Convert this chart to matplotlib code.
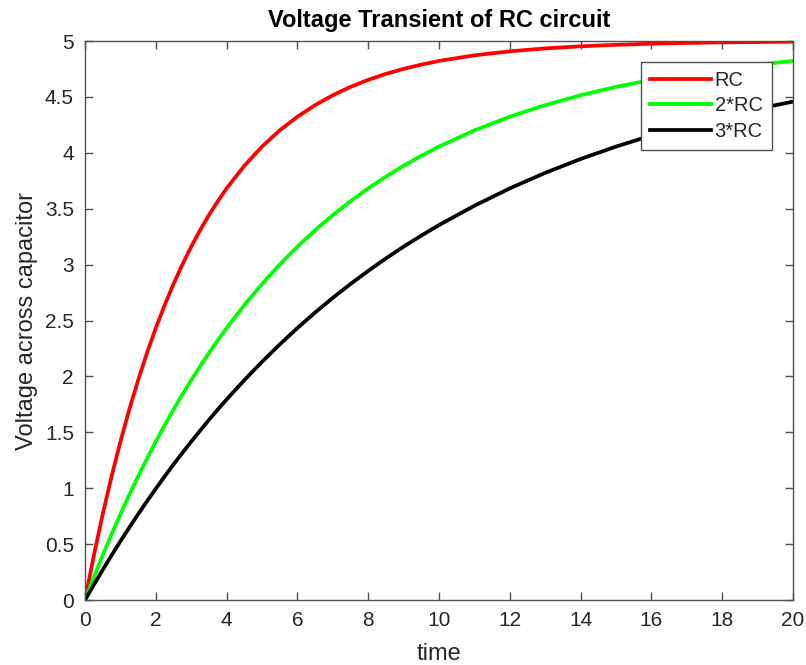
import matplotlib
matplotlib.use("Agg")
import matplotlib.pyplot as plt

plt.rcParams['font.family'] = ['Liberation Sans', 'DejaVu Sans']

# time axis (s): fine steps early on where the curves bend most
t = [0, 0.25, 0.5, 0.75, 1, 1.25, 1.5, 1.75, 2, 2.25, 2.5, 2.75, 3, 3.25, 3.5, 3.75, 4,
     4.5, 5, 5.5, 6, 6.5, 7, 7.5, 8, 8.5, 9, 9.5, 10,
     11, 12, 13, 14, 15, 16, 17, 18, 19, 20]

# capacitor voltage for time constant RC
v_rc = [0.000, 0.400, 0.768, 1.106, 1.417, 1.704, 1.967, 2.210, 2.433, 2.638,
        2.827, 3.001, 3.161, 3.308, 3.443, 3.567, 3.682,
        3.884, 4.056, 4.201, 4.323, 4.427, 4.515, 4.590, 4.653, 4.706, 4.751, 4.789, 4.822,
        4.872, 4.908, 4.934, 4.953, 4.966, 4.976, 4.983, 4.988, 4.991, 4.994]

# time constant 2*RC
v_2rc = [0.000, 0.204, 0.400, 0.588, 0.768, 0.940, 1.106, 1.265, 1.417, 1.564,
         1.704, 1.838, 1.967, 2.091, 2.210, 2.324, 2.433,
         2.638, 2.827, 3.001, 3.161, 3.308, 3.443, 3.567, 3.682, 3.787, 3.884, 3.974, 4.056,
         4.201, 4.323, 4.427, 4.515, 4.590, 4.653, 4.706, 4.751, 4.789, 4.822]

# time constant 3*RC
v_3rc = [0.000, 0.137, 0.270, 0.400, 0.526, 0.648, 0.768, 0.884, 0.996, 1.106,
         1.213, 1.316, 1.417, 1.515, 1.611, 1.704, 1.794,
         1.967, 2.131, 2.286, 2.433, 2.572, 2.703, 2.827, 2.944, 3.056, 3.161, 3.260, 3.354,
         3.527, 3.682, 3.821, 3.945, 4.056, 4.155, 4.244, 4.323, 4.394, 4.458]

labels = ['RC', '2*RC', '3*RC']

fig = plt.figure(figsize=(8.06, 6.65), dpi=100)
ax = fig.add_axes([0.1055, 0.0977, 0.8784, 0.8406])

ax.plot(t, v_rc, color='#ff0000', lw=2.7, label=labels[0])
ax.plot(t, v_2rc, color='#00ff00', lw=2.7, label=labels[1])
ax.plot(t, v_3rc, color='black', lw=2.7, label=labels[2])

ax.set_xlim(0, 20)
ax.set_ylim(0, 5)
ax.set_xticks(range(0, 21, 2))
ax.set_yticks([0, 0.5, 1, 1.5, 2, 2.5, 3, 3.5, 4, 4.5, 5])
ax.set_yticklabels(['0', '0.5', '1', '1.5', '2', '2.5', '3', '3.5', '4', '4.5', '5'])

axis_color = '#505050'
for s in ax.spines.values():
    s.set_color(axis_color)
    s.set_linewidth(1.0)
ax.tick_params(direction='in', length=6, width=1.0, color=axis_color,
               labelcolor='#262626', labelsize=15, top=True, right=True, pad=8)

ax.set_title('Voltage Transient of RC circuit', fontsize=17, fontweight='bold', pad=10)
ax.set_xlabel('time', fontsize=17, color='#262626', labelpad=9)
ax.set_ylabel('Voltage across capacitor', fontsize=17, color='#262626', labelpad=5)

leg = ax.legend(loc='upper right', bbox_to_anchor=(0.97, 0.963), fontsize=14.5,
                fancybox=False, framealpha=1, edgecolor=axis_color,
                handlelength=3.0, handletextpad=0.2, borderpad=0.45,
                labelspacing=0.32, borderaxespad=0)
leg.get_frame().set_linewidth(1.0)
for txt in leg.get_texts():
    txt.set_color('#262626')

fig.savefig('out.png', dpi=100)
